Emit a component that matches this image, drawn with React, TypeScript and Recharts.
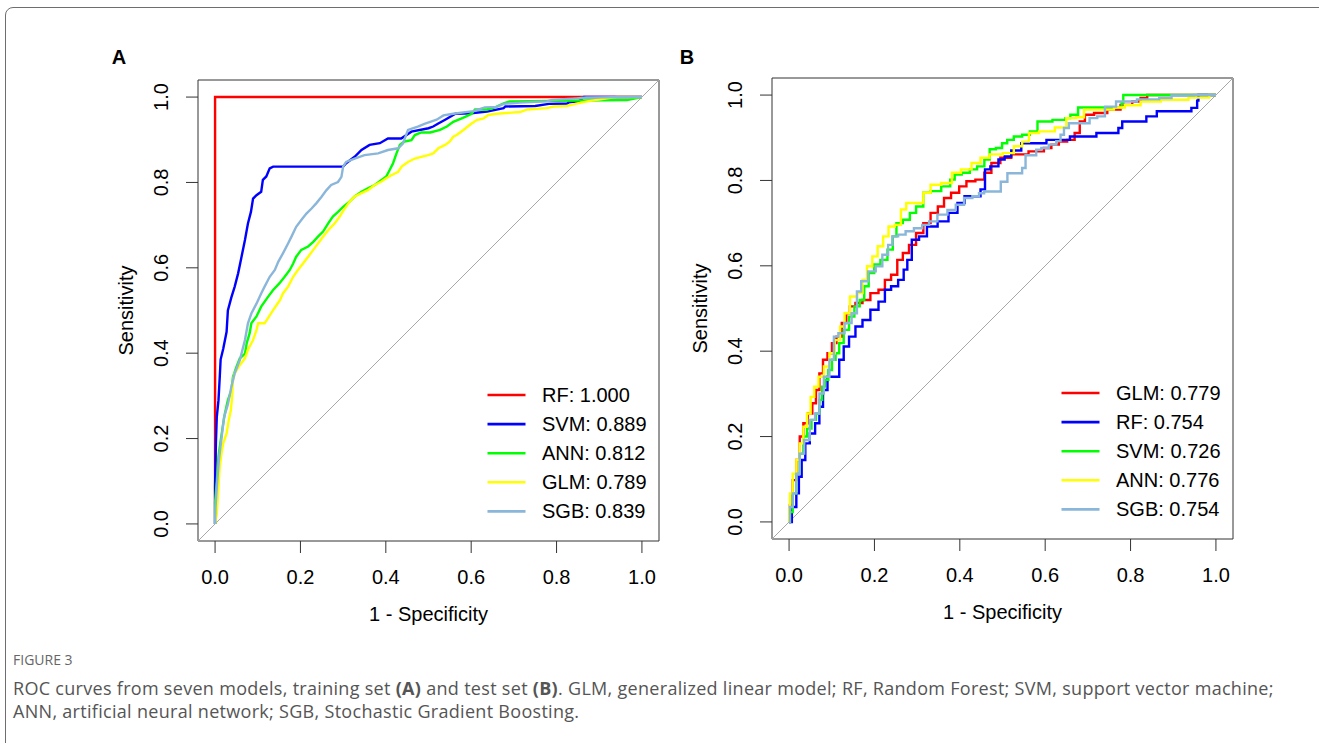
import React from 'react';
import { LineChart, Line, XAxis, YAxis, ReferenceArea, Legend } from 'recharts';

type Pt = [number, number];

const axisTicks = [0, 0.2, 0.4, 0.6, 0.8, 1];
const axisDomain: [number, number] = [-0.04, 1.04];
const diagonal: Pt[] = [[-0.04, -0.04], [1.04, 1.04]];
const curveColors = ['#ff0000', '#0000ff', '#00ff00', '#ffff00', '#8ab6da'];

const trainNames = ['RF', 'SVM', 'ANN', 'GLM', 'SGB'];
const trainAUC = ['1.000', '0.889', '0.812', '0.789', '0.839'];
const testNames = ['GLM', 'RF', 'SVM', 'ANN', 'SGB'];
const testAUC = ['0.779', '0.754', '0.726', '0.776', '0.754'];

// Panel A: training set
const trainRF: Pt[] = [[0, 0], [0, 1], [1, 1]];
const trainSVM: Pt[] = [
  [0, 0], [0, 0.09], [0.002, 0.19], [0.004, 0.25], [0.008, 0.29], [0.011, 0.345], [0.013, 0.385], [0.019, 0.41],
  [0.027, 0.45], [0.03, 0.5], [0.038, 0.53], [0.046, 0.556], [0.054, 0.587], [0.062, 0.626], [0.07, 0.665],
  [0.077, 0.704], [0.084, 0.731], [0.089, 0.762], [0.097, 0.77], [0.108, 0.778], [0.112, 0.806], [0.12, 0.814],
  [0.128, 0.833], [0.136, 0.837], [0.3, 0.837], [0.307, 0.845], [0.327, 0.86], [0.343, 0.876], [0.362, 0.888],
  [0.386, 0.892], [0.405, 0.903], [0.436, 0.903], [0.46, 0.919], [0.5, 0.927], [0.511, 0.931], [0.523, 0.938],
  [0.539, 0.947], [0.563, 0.961], [0.6, 0.962], [0.637, 0.966], [0.676, 0.974], [0.68, 0.978], [0.75, 0.979],
  [0.782, 0.984], [0.825, 0.985], [0.829, 0.988], [0.852, 0.99], [0.864, 1.0], [1, 1],
];
const trainANN: Pt[] = [
  [0, 0], [0, 0.05], [0.004, 0.1], [0.008, 0.158], [0.011, 0.181], [0.019, 0.235], [0.023, 0.259], [0.03, 0.29],
  [0.038, 0.313], [0.042, 0.345], [0.05, 0.368], [0.058, 0.388], [0.07, 0.399], [0.074, 0.423], [0.081, 0.447],
  [0.085, 0.47], [0.097, 0.486], [0.108, 0.509], [0.124, 0.532], [0.136, 0.548], [0.151, 0.564], [0.163, 0.579],
  [0.175, 0.595], [0.183, 0.61], [0.19, 0.626], [0.202, 0.642], [0.218, 0.65], [0.23, 0.661], [0.241, 0.673],
  [0.253, 0.685], [0.265, 0.704], [0.276, 0.72], [0.288, 0.731], [0.3, 0.743], [0.315, 0.755], [0.327, 0.767],
  [0.343, 0.778], [0.358, 0.786], [0.374, 0.794], [0.39, 0.806], [0.401, 0.814], [0.409, 0.829], [0.417, 0.845],
  [0.425, 0.868], [0.433, 0.888], [0.444, 0.896], [0.46, 0.899], [0.468, 0.911], [0.483, 0.917], [0.504, 0.917],
  [0.527, 0.923], [0.543, 0.931], [0.558, 0.942], [0.582, 0.952], [0.601, 0.961], [0.609, 0.971], [0.637, 0.971],
  [0.656, 0.976], [0.676, 0.985], [0.69, 0.99], [0.965, 0.993], [1, 1],
];
const trainGLM: Pt[] = [
  [0, 0], [0.004, 0.023], [0.006, 0.056], [0.009, 0.103], [0.011, 0.134], [0.015, 0.165], [0.019, 0.189],
  [0.027, 0.212], [0.032, 0.243], [0.037, 0.267], [0.04, 0.298], [0.042, 0.337], [0.046, 0.353], [0.058, 0.372],
  [0.07, 0.388], [0.077, 0.408], [0.089, 0.431], [0.097, 0.454], [0.101, 0.47], [0.116, 0.47], [0.124, 0.482],
  [0.136, 0.501], [0.147, 0.517], [0.152, 0.524], [0.159, 0.54], [0.171, 0.556], [0.183, 0.579], [0.194, 0.595],
  [0.206, 0.61], [0.218, 0.626], [0.23, 0.642], [0.241, 0.657], [0.253, 0.673], [0.265, 0.688], [0.28, 0.704],
  [0.292, 0.72], [0.304, 0.739], [0.315, 0.755], [0.327, 0.767], [0.343, 0.775], [0.358, 0.782], [0.374, 0.794],
  [0.39, 0.802], [0.401, 0.81], [0.413, 0.817], [0.429, 0.825], [0.437, 0.837], [0.452, 0.848], [0.468, 0.856],
  [0.483, 0.86], [0.499, 0.864], [0.511, 0.868], [0.523, 0.88], [0.539, 0.888], [0.55, 0.896], [0.558, 0.907],
  [0.566, 0.911], [0.582, 0.923], [0.597, 0.935], [0.613, 0.946], [0.629, 0.95], [0.64, 0.958], [0.66, 0.961],
  [0.715, 0.965], [0.731, 0.971], [0.777, 0.974], [0.793, 0.978], [0.824, 0.979], [0.844, 0.984], [0.872, 0.99],
  [0.891, 0.993], [0.93, 0.999], [0.942, 1.0], [1, 1],
];
const trainSGB: Pt[] = [
  [0, 0], [0.001, 0.04], [0.005, 0.1], [0.009, 0.15], [0.015, 0.2], [0.021, 0.25], [0.03, 0.28], [0.038, 0.32],
  [0.046, 0.353], [0.058, 0.384], [0.07, 0.431], [0.077, 0.47], [0.085, 0.493], [0.097, 0.516], [0.108, 0.54],
  [0.116, 0.556], [0.128, 0.579], [0.14, 0.595], [0.148, 0.614], [0.159, 0.634], [0.171, 0.657], [0.179, 0.673],
  [0.19, 0.696], [0.202, 0.712], [0.214, 0.727], [0.226, 0.739], [0.237, 0.751], [0.249, 0.766], [0.261, 0.782],
  [0.272, 0.794], [0.288, 0.801], [0.296, 0.813], [0.3, 0.837], [0.307, 0.848], [0.327, 0.856], [0.35, 0.864],
  [0.382, 0.868], [0.405, 0.876], [0.429, 0.88], [0.44, 0.891], [0.452, 0.923], [0.475, 0.931], [0.492, 0.938],
  [0.504, 0.942], [0.519, 0.947], [0.535, 0.957], [0.558, 0.961], [0.605, 0.967], [0.632, 0.976], [0.66, 0.977],
  [0.676, 0.984], [0.715, 0.987], [0.777, 0.99], [0.789, 0.993], [0.847, 0.997], [0.87, 0.999], [1, 1],
];

// Panel B: test set
const testGLM: Pt[] = [
  [0, 0], [0.004, 0.04], [0.013, 0.098], [0.021, 0.145], [0.029, 0.2], [0.038, 0.231], [0.05, 0.254],
  [0.059, 0.278], [0.067, 0.309], [0.075, 0.348], [0.084, 0.38], [0.096, 0.395], [0.105, 0.419], [0.117, 0.434],
  [0.13, 0.466], [0.138, 0.489], [0.147, 0.505], [0.164, 0.513], [0.18, 0.52], [0.201, 0.536], [0.218, 0.544],
  [0.231, 0.567], [0.247, 0.579], [0.26, 0.614], [0.273, 0.63], [0.289, 0.649], [0.306, 0.677], [0.323, 0.7],
  [0.34, 0.724], [0.357, 0.739], [0.369, 0.759], [0.39, 0.771], [0.407, 0.786], [0.424, 0.798], [0.449, 0.802],
  [0.466, 0.818], [0.482, 0.841], [0.508, 0.853], [0.533, 0.861], [0.589, 0.868], [0.605, 0.876], [0.624, 0.884],
  [0.64, 0.891], [0.663, 0.895], [0.675, 0.911], [0.687, 0.938], [0.699, 0.954], [0.73, 0.958], [0.761, 0.966],
  [0.792, 0.977], [0.816, 0.985], [0.831, 0.993], [0.847, 1.0], [1, 1],
];
const testRF: Pt[] = [
  [0, 0], [0.013, 0.035], [0.021, 0.067], [0.025, 0.106], [0.034, 0.145], [0.042, 0.184], [0.055, 0.207],
  [0.067, 0.231], [0.075, 0.27], [0.084, 0.309], [0.096, 0.34], [0.113, 0.34], [0.122, 0.38], [0.134, 0.411],
  [0.147, 0.434], [0.164, 0.458], [0.18, 0.473], [0.201, 0.497], [0.218, 0.516], [0.231, 0.544], [0.247, 0.552],
  [0.264, 0.567], [0.273, 0.591], [0.281, 0.614], [0.294, 0.661], [0.315, 0.669], [0.331, 0.692], [0.365, 0.704],
  [0.382, 0.724], [0.407, 0.747], [0.415, 0.763], [0.44, 0.763], [0.457, 0.779], [0.461, 0.826], [0.482, 0.833],
  [0.499, 0.849], [0.511, 0.856], [0.53, 0.87], [0.558, 0.887], [0.601, 0.887], [0.605, 0.895], [0.656, 0.895],
  [0.66, 0.903], [0.718, 0.903], [0.722, 0.911], [0.77, 0.911], [0.773, 0.923], [0.788, 0.938], [0.835, 0.938],
  [0.839, 0.95], [0.86, 0.95], [0.863, 0.962], [0.94, 0.962], [0.945, 0.97], [0.955, 0.97], [0.957, 0.987],
  [0.961, 1.0], [1, 1],
];
const testSVM: Pt[] = [
  [0, 0], [0.004, 0.023], [0.013, 0.067], [0.021, 0.113], [0.029, 0.16], [0.038, 0.2], [0.046, 0.219],
  [0.059, 0.239], [0.067, 0.254], [0.075, 0.286], [0.08, 0.317], [0.088, 0.333], [0.096, 0.356], [0.105, 0.38],
  [0.113, 0.395], [0.122, 0.419], [0.134, 0.45], [0.147, 0.481], [0.159, 0.505], [0.172, 0.52], [0.18, 0.552],
  [0.193, 0.583], [0.206, 0.603], [0.222, 0.614], [0.239, 0.638], [0.247, 0.669], [0.256, 0.7], [0.277, 0.708],
  [0.289, 0.724], [0.306, 0.739], [0.323, 0.771], [0.34, 0.775], [0.373, 0.786], [0.382, 0.802], [0.394, 0.814],
  [0.415, 0.818], [0.432, 0.826], [0.449, 0.833], [0.466, 0.849], [0.474, 0.873], [0.495, 0.876], [0.503, 0.887],
  [0.519, 0.895], [0.534, 0.903], [0.558, 0.907], [0.57, 0.915], [0.594, 0.938], [0.64, 0.942], [0.655, 0.946],
  [0.663, 0.954], [0.691, 0.971], [0.777, 0.971], [0.781, 0.981], [0.785, 1.0], [1, 1],
];
const testANN: Pt[] = [
  [0, 0], [0, 0.03], [0.004, 0.067], [0.013, 0.113], [0.021, 0.145], [0.029, 0.184], [0.038, 0.223], [0.046, 0.254],
  [0.055, 0.293], [0.063, 0.317], [0.075, 0.34], [0.088, 0.364], [0.101, 0.395], [0.113, 0.426], [0.126, 0.458],
  [0.134, 0.489], [0.151, 0.528], [0.168, 0.536], [0.176, 0.567], [0.189, 0.599], [0.201, 0.622], [0.214, 0.646],
  [0.227, 0.669], [0.239, 0.692], [0.256, 0.696], [0.268, 0.732], [0.281, 0.747], [0.306, 0.747], [0.323, 0.771],
  [0.34, 0.79], [0.373, 0.794], [0.39, 0.818], [0.415, 0.826], [0.44, 0.841], [0.457, 0.853], [0.482, 0.861],
  [0.519, 0.864], [0.534, 0.88], [0.558, 0.891], [0.566, 0.911], [0.605, 0.915], [0.64, 0.924], [0.659, 0.946],
  [0.687, 0.948], [0.695, 0.966], [0.757, 0.966], [0.765, 0.971], [0.808, 0.976], [0.839, 0.985], [0.902, 0.989],
  [0.969, 0.994], [1, 1],
];
const testSGB: Pt[] = [
  [0, 0], [0.004, 0.035], [0.013, 0.067], [0.021, 0.113], [0.029, 0.16], [0.042, 0.192], [0.055, 0.239],
  [0.067, 0.254], [0.075, 0.301], [0.088, 0.34], [0.101, 0.38], [0.109, 0.434], [0.122, 0.442], [0.138, 0.466],
  [0.155, 0.489], [0.163, 0.54], [0.175, 0.564], [0.195, 0.587], [0.211, 0.599], [0.226, 0.626], [0.238, 0.649],
  [0.246, 0.669], [0.265, 0.673], [0.281, 0.681], [0.304, 0.688], [0.32, 0.696], [0.336, 0.704], [0.359, 0.72],
  [0.383, 0.731], [0.398, 0.743], [0.422, 0.759], [0.437, 0.763], [0.453, 0.77], [0.461, 0.774], [0.492, 0.774],
  [0.5, 0.797], [0.523, 0.817], [0.542, 0.817], [0.55, 0.829], [0.558, 0.859], [0.573, 0.859], [0.585, 0.872],
  [0.597, 0.876], [0.62, 0.884], [0.632, 0.892], [0.64, 0.907], [0.648, 0.923], [0.663, 0.934], [0.702, 0.934],
  [0.706, 0.946], [0.738, 0.95], [0.742, 0.973], [0.79, 0.985], [0.84, 0.99], [0.894, 0.993], [0.898, 0.999],
  [1, 1],
];

const trainSeries = [trainRF, trainSVM, trainANN, trainGLM, trainSGB];
const testSeries = [testGLM, testRF, testSVM, testANN, testSGB];

const toRows = (pts: Pt[]) => pts.map(([x, y]) => ({ x, y }));

const FONT = '"Liberation Sans", Arial, Helvetica, sans-serif';

const XTick = (props: any) => {
  const { x, y, payload } = props;
  return (
    <text x={x} y={y + 24} textAnchor="middle" dominantBaseline="central" fontSize={20} fontFamily={FONT} fill="#000">
      {Number(payload.value).toFixed(1)}
    </text>
  );
};

const YTick = (props: any) => {
  const { x, y, payload } = props;
  const cx = x - 24.5;
  return (
    <text x={cx} y={y} transform={`rotate(-90, ${cx}, ${y})`} textAnchor="middle" dominantBaseline="central" fontSize={20} fontFamily={FONT} fill="#000">
      {Number(payload.value).toFixed(1)}
    </text>
  );
};

const XTitle = (props: any) => {
  const vb = props.viewBox || { x: 198, y: 541, width: 461 };
  return (
    <text x={vb.x + vb.width / 2} y={vb.y + 73} textAnchor="middle" dominantBaseline="central" fontSize={20} fontFamily={FONT} fill="#000">
      1 - Specificity
    </text>
  );
};

const YTitle = (props: any) => {
  const vb = props.viewBox || { x: 138, y: 80, width: 60, height: 461 };
  const cx = vb.x + vb.width - 72;
  const cy = vb.y + vb.height / 2;
  return (
    <text x={cx} y={cy} transform={`rotate(-90, ${cx}, ${cy})`} textAnchor="middle" dominantBaseline="central" fontSize={20} fontFamily={FONT} fill="#000">
      Sensitivity
    </text>
  );
};

const LegendBox = ({ names, aucs }: { names: string[]; aucs: string[] }) => (
  <svg width={220} height={150} style={{ display: 'block', overflow: 'visible' }}>
    {names.map((n, i) => (
      <g key={n}>
        <line x1={2.5} x2={40.5} y1={15 + i * 29.1} y2={15 + i * 29.1} stroke={curveColors[i]} strokeWidth={2.6} />
        <text x={57} y={15 + i * 29.1} dominantBaseline="central" fontSize={20} fontFamily={FONT} fill="#000">
          {`${n}: ${aucs[i]}`}
        </text>
      </g>
    ))}
  </svg>
);

const Panel = ({ series, names, aucs, curve }: { series: Pt[][]; names: string[]; aucs: string[]; curve: 'linear' | 'step' }) => (
  <LineChart width={680} height={650} margin={{ top: 80, right: 21, bottom: 49, left: 138 }}>
    <XAxis
      type="number"
      dataKey="x"
      domain={axisDomain}
      ticks={axisTicks}
      interval={0}
      allowDataOverflow
      axisLine={false}
      tickLine={{ stroke: '#333' }}
      tickSize={12}
      tickMargin={0}
      tick={<XTick />}
      height={60}
      label={<XTitle />}
    />
    <YAxis
      type="number"
      dataKey="y"
      domain={axisDomain}
      ticks={axisTicks}
      interval={0}
      allowDataOverflow
      axisLine={false}
      tickLine={{ stroke: '#333' }}
      tickSize={12}
      tickMargin={0}
      tick={<YTick />}
      width={60}
      label={<YTitle />}
    />
    <ReferenceArea x1={-0.04} x2={1.04} y1={-0.04} y2={1.04} fill="none" fillOpacity={0} stroke="#333" strokeWidth={1} ifOverflow="visible" />
    <Line data={toRows(diagonal)} dataKey="y" stroke="#a8a8a8" strokeWidth={1} dot={false} isAnimationActive={false} legendType="none" />
    {series.map((s, i) => (
      <Line
        key={names[i]}
        data={toRows(s)}
        dataKey="y"
        name={names[i]}
        type={curve}
        stroke={curveColors[i]}
        strokeWidth={2.4}
        dot={false}
        activeDot={false}
        isAnimationActive={false}
      />
    ))}
    <Legend
      layout="vertical"
      align="center"
      verticalAlign="middle"
      wrapperStyle={{ left: 485, top: 380, width: 220, height: 150 }}
      content={() => <LegendBox names={names} aucs={aucs} />}
    />
  </LineChart>
);

export default function App() {
  return (
    <div style={{ position: 'fixed', left: 0, top: 0, width: 1319, height: 743, overflow: 'hidden', background: '#fff' }}>
      <div style={{ position: 'absolute', left: 5, top: 7, width: 1400, height: 800, border: '1px solid #6e6e6e', borderRadius: 8 }} />
      <div style={{ position: 'absolute', left: 0, top: 0 }}>
        <Panel series={trainSeries} names={trainNames} aucs={trainAUC} curve="linear" />
      </div>
      <div style={{ position: 'absolute', left: 574, top: -2 }}>
        <Panel series={testSeries} names={testNames} aucs={testAUC} curve="step" />
      </div>
      <div style={{ position: 'absolute', left: 119, top: 47, transform: 'translateX(-50%)', fontFamily: FONT, fontWeight: 700, fontSize: 20, lineHeight: '20px', color: '#000' }}>A</div>
      <div style={{ position: 'absolute', left: 687, top: 47, transform: 'translateX(-50%)', fontFamily: FONT, fontWeight: 700, fontSize: 20, lineHeight: '20px', color: '#000' }}>B</div>
      <div style={{ position: 'absolute', left: 13, top: 650, fontFamily: '"Open Sans", "Noto Sans", sans-serif', color: '#555', whiteSpace: 'nowrap' }}>
        <div style={{ fontSize: 14, lineHeight: '20px', color: '#666' }}>FIGURE 3</div>
        <div style={{ fontSize: 18, lineHeight: '23px', marginTop: 7, letterSpacing: 0.3 }}>
          ROC curves from seven models, training set <b>(A)</b> and test set <b>(B)</b>. GLM, generalized linear model; RF, Random Forest; SVM, support vector machine;
          <br />
          ANN, artificial neural network; SGB, Stochastic Gradient Boosting.
        </div>
      </div>
    </div>
  );
}
